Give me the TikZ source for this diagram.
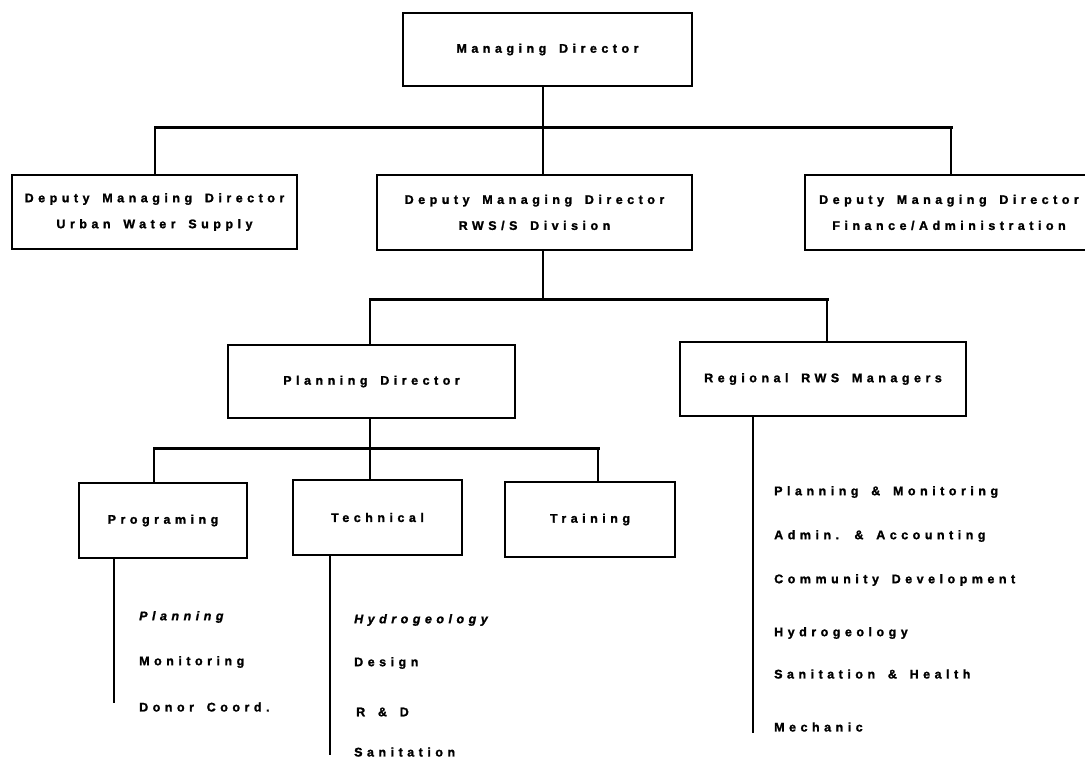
\documentclass[tikz,border=0pt]{standalone}
\usepackage{fontspec}
\setmainfont{Liberation Sans}[LetterSpace=36, WordSpace=1.6, BoldFeatures={FakeBold=1.5}, BoldItalicFeatures={FakeBold=1.5}]
\begin{document}
\begin{tikzpicture}[x=1pt,y=-1pt,
  box/.style={draw=black, line width=1.6pt, inner sep=0pt, align=center,
    font=\fontsize{12.5}{26}\selectfont\bfseries},
  item/.style={anchor=west, inner sep=0pt, font=\fontsize{12.5}{14}\selectfont\bfseries},
  bus/.style={line width=3pt, line cap=rect},
  stem/.style={line width=2.6pt}]
\useasboundingbox (0,0) rectangle (1085,762);
% boxes
\node[box, minimum width=289pt, minimum height=73pt] (md) at (547.5,49.5) {Managing Director};
\node[box, minimum width=285pt, minimum height=74pt] (dmdl) at (154.5,212) {Deputy Managing Director\\Urban Water Supply};
\node[box, minimum width=315pt, minimum height=75pt] (dmdc) at (534.5,212.5) {Deputy Managing Director\\RWS/S Division};
\node[box, minimum width=288pt, minimum height=75pt] (dmdr) at (949,212.5) {Deputy Managing Director\\Finance/Administration};
\node[box, minimum width=287pt, minimum height=73pt] (pd) at (371.5,381.5) {Planning Director};
\node[box, minimum width=286pt, minimum height=74pt] (reg) at (823,379) {Regional RWS Managers};
\node[box, minimum width=168pt, minimum height=75pt] (prog) at (163,520.5) {Programing};
\node[box, minimum width=169pt, minimum height=75pt] (tech) at (377.5,517.5) {Technical};
\node[box, minimum width=170pt, minimum height=75pt] (train) at (590,519.5) {Training};
% bus coordinates
\coordinate (b1) at (543,128);
\coordinate (b1l) at (155,128);
\coordinate (b1r) at (951,128);
\coordinate (b2) at (543,300);
\coordinate (b2l) at (370,300);
\coordinate (b2r) at (827,300);
\coordinate (b3) at (370,448);
\coordinate (b3l) at (154,448);
\coordinate (b3r) at (598,448);
\coordinate (e1) at (114,703);
\coordinate (e2) at (330,755);
\coordinate (e3) at (753,733);
% level 1
\draw[bus] (b1l) -- (b1r);
\draw[stem] (md.south -| b1) -- (dmdc.north -| b1);
\draw[stem] (b1l) -- (dmdl.north -| b1l);
\draw[stem] (b1r) -- (dmdr.north -| b1r);
% level 2
\draw[stem] (dmdc.south -| b2) -- (b2);
\draw[bus] (b2l) -- (b2r);
\draw[stem] (b2l) -- (pd.north -| b2l);
\draw[stem] (b2r) -- (reg.north -| b2r);
% level 3
\draw[stem] (pd.south -| b3) -- (tech.north -| b3);
\draw[bus] (b3l) -- (b3r);
\draw[stem] (b3l) -- (prog.north -| b3l);
\draw[stem] (b3r) -- (train.north -| b3r);
% list stems
\draw[stem] (prog.south -| e1) -- (e1);
\draw[stem] (tech.south -| e2) -- (e2);
\draw[stem] (reg.south -| e3) -- (e3);
% lists
\node[item] (p1) at (139,617) {\itshape Planning};
\node[item] (p2) at (139,662) {Monitoring};
\node[item] (p3) at (139,707) {Donor Coord.};
\node[item] (t1) at (354,620) {\itshape Hydrogeology};
\node[item] (t2) at (354,663) {Design};
\node[item] (t3) at (356,712) {R \& D};
\node[item] (t4) at (354,752) {Sanitation};
\node[item] (r1) at (774,492) {Planning \& Monitoring};
\node[item] (r2) at (774,536) {Admin. \& Accounting};
\node[item] (r3) at (774,580) {Community Development};
\node[item] (r4) at (774,633) {Hydrogeology};
\node[item] (r5) at (774,674) {Sanitation \& Health};
\node[item] (r6) at (774,727) {Mechanic};
\end{tikzpicture}
\end{document}
